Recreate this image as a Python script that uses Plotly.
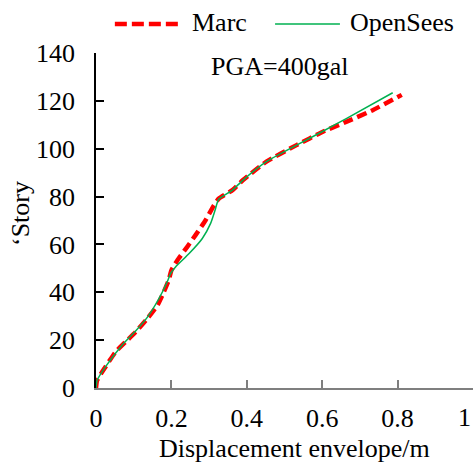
import plotly.graph_objects as go

marc_x = [0, 0.003, 0.025, 0.052, 0.078, 0.105, 0.136, 0.163, 0.18, 0.193, 0.2, 0.216, 0.242, 0.264,
          0.291, 0.313, 0.326, 0.362, 0.39, 0.452, 0.532, 0.602, 0.665, 0.735, 0.811]
marc_y = [0, 3.2, 8.8, 15.1, 19.2, 23.4, 29, 34.6, 40.2, 45.1, 49.2, 53.4, 59, 63.9,
          70.2, 76.4, 79.2, 82.7, 86.9, 94.6, 101.5, 107.1, 111.3, 116.2, 122.5]

os_x = [0, 0.003, 0.025, 0.069, 0.105, 0.136, 0.167, 0.189, 0.198, 0.211, 0.247, 0.282, 0.304,
        0.316, 0.325, 0.362, 0.39, 0.452, 0.532, 0.602, 0.665, 0.787]
os_y = [0, 3.2, 8.8, 17.9, 23.8, 29.5, 37.4, 44.4, 47.9, 50.6, 56.2, 62.5, 68.8,
        74.4, 78.8, 82.7, 86.9, 94.6, 101.5, 107.3, 112.7, 123.4]

x_ticks = [0, 0.2, 0.4, 0.6, 0.8, 1]
x_labels = ["0", "0.2", "0.4", "0.6", "0.8", "1"]
y_ticks = [0, 20, 40, 60, 80, 100, 120, 140]

FONT = "Times New Roman"
RED = "#ff0000"
GREEN = "#00b050"

fig = go.Figure()
fig.add_trace(go.Scatter(x=marc_x, y=marc_y, mode="lines", name="Marc",
                         line=dict(color=RED, width=4.5, dash="10px,5px", shape="spline", smoothing=0.5)))
fig.add_trace(go.Scatter(x=os_x, y=os_y, mode="lines", name="OpenSees",
                         line=dict(color=GREEN, width=1.5, shape="spline", smoothing=0.5)))

# manual legend
fig.add_shape(type="line", xref="paper", yref="paper", x0=0.050, x1=0.228, y0=1.0866, y1=1.0866,
              line=dict(color=RED, width=4.5, dash="12px,5px"))
fig.add_shape(type="line", xref="paper", yref="paper", x0=0.475, x1=0.647, y0=1.0866, y1=1.0866,
              line=dict(color=GREEN, width=1.5))
fig.add_annotation(xref="paper", yref="paper", x=0.249, y=1.09, text="Marc", showarrow=False,
                   xanchor="left", yanchor="middle", font=dict(family=FONT, size=26, color="black"))
fig.add_annotation(xref="paper", yref="paper", x=0.668, y=1.09, text="OpenSees", showarrow=False,
                   xanchor="left", yanchor="middle", font=dict(family=FONT, size=26, color="black"))

fig.add_annotation(xref="paper", yref="paper", x=0.488, y=0.961, text="PGA=400gal", showarrow=False,
                   xanchor="center", yanchor="middle", font=dict(family=FONT, size=26, color="black"))

# last x tick label, kept inside the page edge
fig.add_annotation(xref="x", yref="paper", x=x_ticks[-1], y=(388 - 417) / 335, text=x_labels[-1],
                   showarrow=False, xanchor="right", yanchor="middle",
                   font=dict(family=FONT, size=26, color="black"))

# axis titles
fig.add_annotation(xref="paper", yref="paper", x=(294 - 96) / 377, y=(388 - 448) / 335,
                   text="Displacement envelope/m", showarrow=False, xanchor="center", yanchor="middle",
                   font=dict(family=FONT, size=26, color="black"))
fig.add_annotation(xref="paper", yref="paper", x=(20 - 96) / 377, y=(388 - 214) / 335,
                   text="\u2018Story", showarrow=False, textangle=-90, xanchor="center", yanchor="middle",
                   font=dict(family=FONT, size=26, color="black"))

fig.update_layout(
    width=474, height=467,
    margin=dict(l=96, r=1, t=53, b=79),
    paper_bgcolor="white", plot_bgcolor="white",
    showlegend=False,
    font=dict(family=FONT, size=26, color="black"),
)
fig.update_xaxes(range=[0, 1], tickvals=x_ticks, ticktext=x_labels[:-1] + [""], showgrid=False,
                 zeroline=False, showline=True, linecolor="#7f7f7f", linewidth=1.5, ticks="inside",
                 ticklen=8, tickcolor="#7f7f7f", tickwidth=1.5, ticklabelstandoff=6, automargin=False,
                 tickfont=dict(family=FONT, size=26, color="black"))
fig.update_yaxes(range=[0, 140], tickvals=y_ticks, showgrid=False, zeroline=False,
                 showline=True, linecolor="black", linewidth=1.5, ticks="inside", ticklen=8,
                 tickcolor="black", tickwidth=1.5, ticklabelstandoff=14, automargin=False,
                 tickfont=dict(family=FONT, size=26, color="black"))

fig.write_html("out.html")
